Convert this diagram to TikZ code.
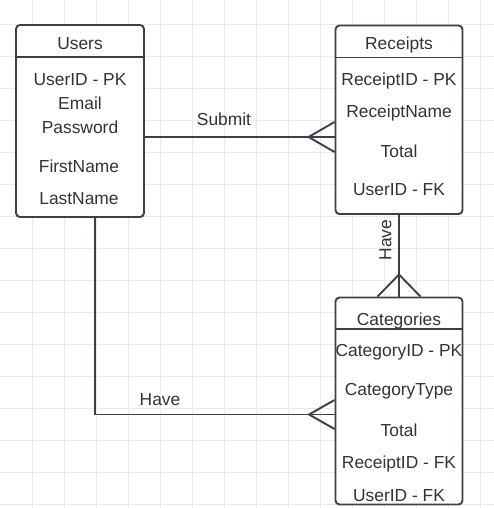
\documentclass[tikz,border=0pt]{standalone}
\usepackage{fontspec}
\setmainfont{Liberation Sans}
\usetikzlibrary{positioning}
\definecolor{erline}{RGB}{58,65,74}
\definecolor{ertext}{RGB}{51,51,51}
\definecolor{ergrid}{RGB}{234,234,234}
\tikzset{
  entity/.style={draw=erline, line width=1.9pt, rounded corners=4pt, fill=white},
  attr/.style={text=ertext, font=\fontsize{17.4}{20}\selectfont, inner sep=0pt, text height=12.5pt, text depth=0pt},
  rel/.style={draw=erline, line width=1.9pt},
  gridline/.style={draw=ergrid, line width=1pt}
}

\begin{document}
\begin{tikzpicture}[x=1pt, y=-1pt]
\useasboundingbox[fill=white] (0,0) rectangle (494,508);
% Background grid
\foreach \i in {1,...,15} \draw[gridline] (32*\i,0) -- (32*\i,508);
\foreach \j in {0,...,15} \draw[gridline] (0,24.5+32*\j) -- (494,24.5+32*\j);

% Users
\node[entity, minimum width=128, minimum height=192] (users) at (80,121) {};
\draw[rel] (users.north west) ++(0,33) -- ++(128,0);
\node[attr] (usersT) at (80,43) {Users};
\node[attr] (usersId) at (80,79) {UserID - PK};
\node[attr] (usersMail) at (80,103) {Email};
\node[attr] (usersPw) at (80,127) {Password};
\node[attr] (usersFirst) at (79,166) {FirstName};
\node[attr] (usersLast) at (79,198) {LastName};

% Receipts
\node[entity, minimum width=127, minimum height=188.5] (receipts) at (399,119.75) {};
\draw[rel] (receipts.north west) ++(0,33) -- ++(127,0);
\node[attr] (receiptsT) at (399,43) {Receipts};
\node[attr] (receiptsId) at (399,79) {ReceiptID - PK};
\node[attr] (receiptsName) at (399,111) {ReceiptName};
\node[attr] (receiptsTotal) at (399,151) {Total};
\node[attr] (receiptsUser) at (399,189) {UserID - FK};

% Categories
\node[entity, minimum width=127, minimum height=207] (categories) at (399,401) {};
\draw[rel] (categories.north west) ++(0,32.5) -- ++(127,0);
\node[attr] (categoriesT) at (399,319) {Categories};
\node[attr] (categoriesId) at (399,350) {CategoryID - PK};
\node[attr] (categoriesType) at (399,389) {CategoryType};
\node[attr] (categoriesTotal) at (399,430) {Total};
\node[attr] (categoriesRec) at (399,462) {ReceiptID - FK};
\node[attr] (categoriesUser) at (399,495) {UserID - FK};

% Submit: users -> receipts
\coordinate (submitEnd) at (receipts.west |- 0,137);
\draw[rel] (users.east |- submitEnd) -- (submitEnd);
\draw[rel] (submitEnd) ++(0,-15) -- ++(-26,15) -- ++(26,15);
\node[attr] (submitL) at (224,119) {Submit};

% Have: receipts -> categories
\draw[rel] (receipts.south) -- (categories.north);
\draw[rel] (categories.north) ++(-21.5,0) -- ++(21.5,-22) -- ++(21.5,22);
\node[attr, rotate=90] (haveV) at (385,240) {Have};

% Have: users -> categories
\coordinate (haveEnd) at (categories.west |- 0,414.5);
\draw[rel] (users.south -| 95,0) |- (haveEnd);
\draw[rel] (haveEnd) ++(0,-14.5) -- ++(-25.5,14.5) -- ++(25.5,14.5);
\node[attr] (haveH) at (160,399) {Have};
\end{tikzpicture}
\end{document}
